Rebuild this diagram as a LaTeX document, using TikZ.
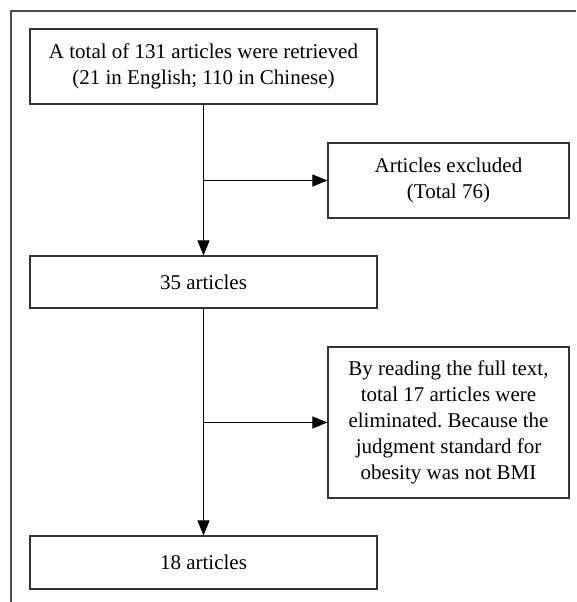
\documentclass[tikz,border=0pt]{standalone}
\usepackage{fontspec}
\setmainfont{Liberation Serif}
\usepackage{tikz}
\usetikzlibrary{arrows.meta,positioning}
\frenchspacing

\begin{document}
\begin{tikzpicture}[x=1pt,y=1pt,>={Triangle[length=15pt,width=12pt]},
  box/.style={draw=black!80,line width=1.2pt,inner sep=0pt,align=center,
    font=\fontsize{21}{26}\selectfont},
  wide/.style={box,minimum width=347pt},
  side/.style={box,minimum width=241pt},
  link/.style={line width=1pt}]
\useasboundingbox (0,0) rectangle (576,602);
% outer frame (only top and left edges show)
\draw[black!70,line width=2pt] (576,591) -- (11,591) -- (11,0);
\node (total) [wide,minimum height=75pt] at (203.5,535.5) {A total of 131 articles were retrieved\\(21 in English; 110 in Chinese)};
\node (excl) [side,minimum height=75pt] at (448.5,421.5) {Articles excluded\\(Total 76)};
\node (mid) [wide,minimum height=52pt] at (203.5,320) {35 articles};
\node (elim) [side,minimum height=151pt] at (448.5,179.5) {By reading the full text,\\total 17 articles were\\eliminated. Because the\\judgment standard for\\obesity was not BMI};
\node (final) [wide,minimum height=53pt] at (203.5,39.5) {18 articles};
\draw[link,->] (total) -- (mid);
\draw[link,->] (total.south |- excl.west) -- (excl);
\draw[link,->] (mid) -- (final);
\draw[link,->] (mid.south |- elim.west) -- (elim);
\end{tikzpicture}
\end{document}
